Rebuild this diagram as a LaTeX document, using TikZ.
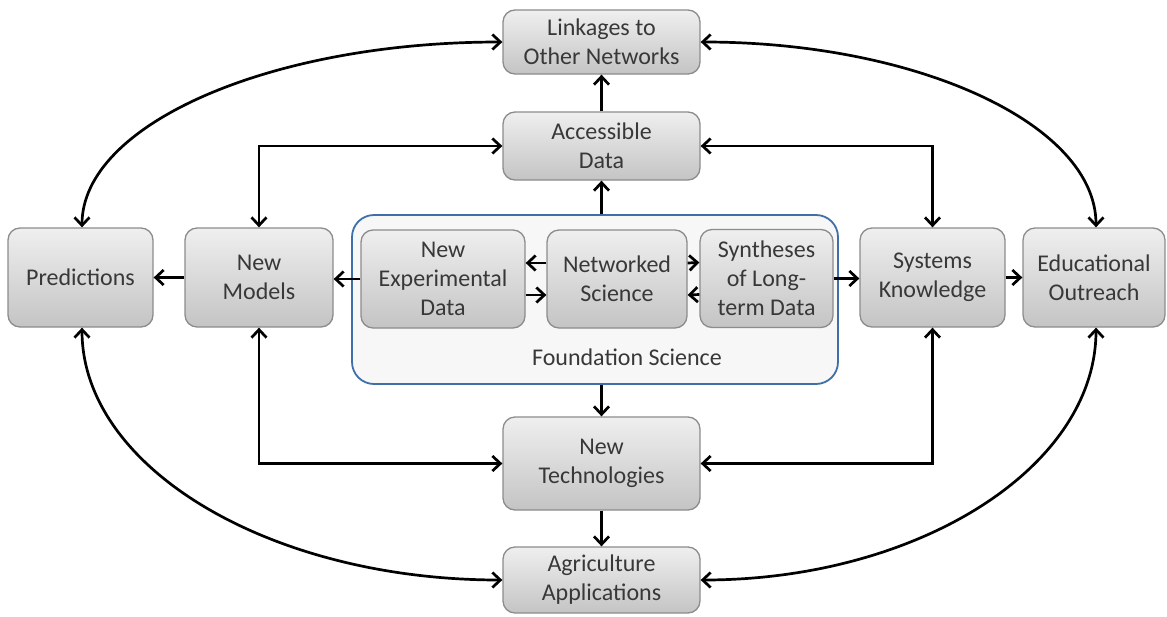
\documentclass[tikz,border=0pt]{standalone}
\usepackage{fontspec}
\setmainfont{Carlito}
\usepackage{tikz}
\usetikzlibrary{arrows.meta}

\definecolor{boxline}{HTML}{8C8C8C}
\definecolor{boxtop}{HTML}{EFEFEF}
\definecolor{boxbot}{HTML}{C4C4C4}
\definecolor{txtgray}{HTML}{383838}
\definecolor{foundline}{HTML}{3F6FA8}
\definecolor{foundfill}{HTML}{F7F7F7}

\begin{document}
\begin{tikzpicture}[x=1pt,y=-1pt]
	\useasboundingbox (0,0) rectangle (1167,616);

	% outer frame of the foundation part
	\node (found) at (595,299.5) [draw=foundline,line width=1.8pt,fill=foundfill,
		rounded corners=22pt,minimum width=486pt,minimum height=169pt] {};
	\node (foundlbl) at (627,357) [text=txtgray,font=\fontsize{24}{29}\selectfont] {Foundation Science};

	\begin{scope}[every node/.style={draw=boxline,line width=1.3pt,rounded corners=12pt,
				  top color=boxtop,bottom color=boxbot,text=txtgray,align=center,
				  inner sep=0pt,font=\fontsize{24}{29}\selectfont}]
		\node (link) at (601.5,42) [minimum width=197pt,minimum height=64pt] {Linkages to\\Other Networks};
		\node (access) at (601.5,146) [minimum width=197pt,minimum height=68pt] {Accessible\\Data};
		\node (newexp) at (443,279) [minimum width=164pt,minimum height=98pt] {New\\Experimental\\Data};
		\node (netsci) at (617,279) [minimum width=140pt,minimum height=98pt] {Networked\\Science};
		\node (synth) at (766.5,278.5) [minimum width=133pt,minimum height=98pt] {Syntheses\\of Long-\\term Data};
		\node (pred) at (80.5,277.5) [minimum width=145pt,minimum height=99pt] {Predictions};
		\node (models) at (259,277.5) [minimum width=148pt,minimum height=99pt] {New\\Models};
		\node (systems) at (932.5,277.5) [minimum width=145pt,minimum height=99pt] {Systems\\Knowledge};
		\node (edu) at (1094,277.5) [minimum width=142pt,minimum height=99pt] {Educational\\Outreach};
		\node (tech) at (601.5,463.5) [minimum width=197pt,minimum height=93pt] {New\\Technologies};
		\node (agri) at (601.5,580) [minimum width=197pt,minimum height=66pt] {Agriculture\\Applications};
	\end{scope}

	\begin{scope}[>={Straight Barb[length=8pt,width=15pt]},line width=2.7pt]
		% straight links
		\draw [->] (access) -- (link);
		\draw [->] (access.south |- found.north) -- (access.south);
		\draw [->] (tech.north |- found.south) -- (tech.north);
		\draw [->] (tech) -- (agri);
		\draw [->] (newexp.west) -- (newexp.west -| models.east);
		\draw [->] (models) -- (pred);
		\draw [->] (synth.east) -- (synth.east -| systems.west);
		\draw [->] (systems) -- (edu);
		\draw [->] ([yshift=16pt]netsci.west) -- ([yshift=16pt]newexp.east);
		\draw [->] ([yshift=-16pt]newexp.east) -- ([yshift=-16pt]netsci.west);
		\draw [->] ([yshift=16pt]netsci.east) -- ([yshift=16pt]synth.west);
		\draw [->] ([yshift=-16pt]synth.west) -- ([yshift=-16pt]netsci.east);

		% elbows
		\draw [<->] (access.west) -| (models.north);
		\draw [<->] (access.east) -| (systems.north);
		\draw [<->] (tech.west) -| (models.south);
		\draw [<->] (tech.east) -| (systems.south);

		% outer loop
		\draw [<->] (link.west) .. controls +(-232,0) and +(0,-103) .. ([xshift=1.5pt]pred.north);
		\draw [<->] (link.east) .. controls +(217,0) and +(0,-103) .. ([xshift=2pt]edu.north);
		\draw [<->] (agri.west) .. controls +(-233,0) and +(0,140) .. ([xshift=1.5pt]pred.south);
		\draw [<->] (agri.east) .. controls +(217,0) and +(0,140) .. ([xshift=2pt]edu.south);
	\end{scope}
\end{tikzpicture}
\end{document}
